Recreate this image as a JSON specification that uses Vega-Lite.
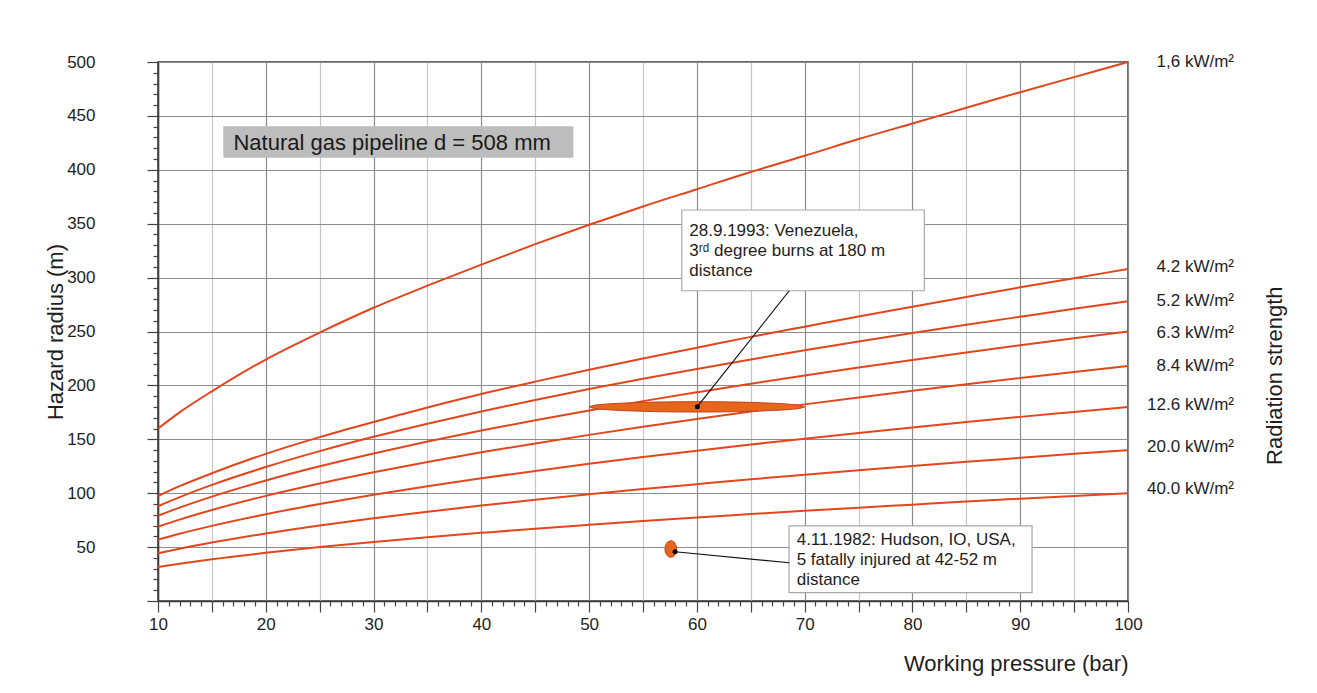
{
  "$schema": "https://vega.github.io/schema/vega-lite/v6.json",
  "width": 970,
  "height": 539,
  "autosize": {"type": "none"},
  "padding": {"left": 158, "top": 62, "right": 189, "bottom": 92},
  "background": "white",
  "config": {"font": "Liberation Sans", "view": {"stroke": "#3a3a3a", "strokeWidth": 1.5}},
  "datasets": {
    "curves": [
      {"s":"1.6","x":10,"y":160},{"s":"1.6","x":12,"y":175},{"s":"1.6","x":15,"y":194.5},{"s":"1.6","x":20,"y":224},{"s":"1.6","x":25,"y":249},{"s":"1.6","x":30,"y":272},{"s":"1.6","x":35,"y":292.5},{"s":"1.6","x":40,"y":312},{"s":"1.6","x":45,"y":331},{"s":"1.6","x":50,"y":349},{"s":"1.6","x":55,"y":366},{"s":"1.6","x":60,"y":382},{"s":"1.6","x":65,"y":398},{"s":"1.6","x":70,"y":413},{"s":"1.6","x":75,"y":428.5},{"s":"1.6","x":80,"y":443},{"s":"1.6","x":85,"y":457.5},{"s":"1.6","x":90,"y":472},{"s":"1.6","x":95,"y":486},{"s":"1.6","x":100,"y":500},
      {"s":"4.2","x":10,"y":97.4},{"s":"4.2","x":12,"y":106.5},{"s":"4.2","x":15,"y":118.5},{"s":"4.2","x":20,"y":136.5},{"s":"4.2","x":25,"y":152},{"s":"4.2","x":30,"y":166},{"s":"4.2","x":35,"y":179.5},{"s":"4.2","x":40,"y":192},{"s":"4.2","x":45,"y":203.5},{"s":"4.2","x":50,"y":214.5},{"s":"4.2","x":55,"y":225},{"s":"4.2","x":60,"y":235},{"s":"4.2","x":65,"y":245},{"s":"4.2","x":70,"y":254.5},{"s":"4.2","x":75,"y":264},{"s":"4.2","x":80,"y":273},{"s":"4.2","x":85,"y":282},{"s":"4.2","x":90,"y":291},{"s":"4.2","x":95,"y":299.5},{"s":"4.2","x":100,"y":308},
      {"s":"5.2","x":10,"y":87.9},{"s":"5.2","x":12,"y":96.3},{"s":"5.2","x":15,"y":107.7},{"s":"5.2","x":20,"y":124.3},{"s":"5.2","x":25,"y":139},{"s":"5.2","x":30,"y":152.3},{"s":"5.2","x":35,"y":164.5},{"s":"5.2","x":40,"y":175.8},{"s":"5.2","x":45,"y":186.5},{"s":"5.2","x":50,"y":196.6},{"s":"5.2","x":55,"y":206.2},{"s":"5.2","x":60,"y":215.3},{"s":"5.2","x":65,"y":224.1},{"s":"5.2","x":70,"y":232.6},{"s":"5.2","x":75,"y":240.7},{"s":"5.2","x":80,"y":248.6},{"s":"5.2","x":85,"y":256.3},{"s":"5.2","x":90,"y":263.7},{"s":"5.2","x":95,"y":271},{"s":"5.2","x":100,"y":278},
      {"s":"6.3","x":10,"y":79.1},{"s":"6.3","x":12,"y":86.6},{"s":"6.3","x":15,"y":96.8},{"s":"6.3","x":20,"y":111.8},{"s":"6.3","x":25,"y":125},{"s":"6.3","x":30,"y":136.9},{"s":"6.3","x":35,"y":147.9},{"s":"6.3","x":40,"y":158.1},{"s":"6.3","x":45,"y":167.7},{"s":"6.3","x":50,"y":176.8},{"s":"6.3","x":55,"y":185.4},{"s":"6.3","x":60,"y":193.6},{"s":"6.3","x":65,"y":201.6},{"s":"6.3","x":70,"y":209.2},{"s":"6.3","x":75,"y":216.5},{"s":"6.3","x":80,"y":223.6},{"s":"6.3","x":85,"y":230.5},{"s":"6.3","x":90,"y":237.2},{"s":"6.3","x":95,"y":243.7},{"s":"6.3","x":100,"y":250},
      {"s":"8.4","x":10,"y":68.9},{"s":"8.4","x":12,"y":75.5},{"s":"8.4","x":15,"y":84.4},{"s":"8.4","x":20,"y":97.5},{"s":"8.4","x":25,"y":109},{"s":"8.4","x":30,"y":119.4},{"s":"8.4","x":35,"y":129},{"s":"8.4","x":40,"y":137.9},{"s":"8.4","x":45,"y":146.2},{"s":"8.4","x":50,"y":154.1},{"s":"8.4","x":55,"y":161.7},{"s":"8.4","x":60,"y":168.9},{"s":"8.4","x":65,"y":175.8},{"s":"8.4","x":70,"y":182.4},{"s":"8.4","x":75,"y":188.8},{"s":"8.4","x":80,"y":195},{"s":"8.4","x":85,"y":201},{"s":"8.4","x":90,"y":206.8},{"s":"8.4","x":95,"y":212.5},{"s":"8.4","x":100,"y":218},
      {"s":"12.6","x":10,"y":56.9},{"s":"12.6","x":12,"y":62.4},{"s":"12.6","x":15,"y":69.7},{"s":"12.6","x":20,"y":80.5},{"s":"12.6","x":25,"y":90},{"s":"12.6","x":30,"y":98.6},{"s":"12.6","x":35,"y":106.5},{"s":"12.6","x":40,"y":113.8},{"s":"12.6","x":45,"y":120.7},{"s":"12.6","x":50,"y":127.3},{"s":"12.6","x":55,"y":133.5},{"s":"12.6","x":60,"y":139.4},{"s":"12.6","x":65,"y":145.1},{"s":"12.6","x":70,"y":150.6},{"s":"12.6","x":75,"y":155.9},{"s":"12.6","x":80,"y":161},{"s":"12.6","x":85,"y":166},{"s":"12.6","x":90,"y":170.8},{"s":"12.6","x":95,"y":175.4},{"s":"12.6","x":100,"y":180},
      {"s":"20.0","x":10,"y":44.3},{"s":"20.0","x":12,"y":48.5},{"s":"20.0","x":15,"y":54.2},{"s":"20.0","x":20,"y":62.6},{"s":"20.0","x":25,"y":70},{"s":"20.0","x":30,"y":76.7},{"s":"20.0","x":35,"y":82.8},{"s":"20.0","x":40,"y":88.5},{"s":"20.0","x":45,"y":93.9},{"s":"20.0","x":50,"y":99},{"s":"20.0","x":55,"y":103.8},{"s":"20.0","x":60,"y":108.4},{"s":"20.0","x":65,"y":112.9},{"s":"20.0","x":70,"y":117.1},{"s":"20.0","x":75,"y":121.2},{"s":"20.0","x":80,"y":125.2},{"s":"20.0","x":85,"y":129.1},{"s":"20.0","x":90,"y":132.8},{"s":"20.0","x":95,"y":136.5},{"s":"20.0","x":100,"y":140},
      {"s":"40.0","x":10,"y":31.6},{"s":"40.0","x":12,"y":34.6},{"s":"40.0","x":15,"y":38.7},{"s":"40.0","x":20,"y":44.7},{"s":"40.0","x":25,"y":50},{"s":"40.0","x":30,"y":54.8},{"s":"40.0","x":35,"y":59.2},{"s":"40.0","x":40,"y":63.2},{"s":"40.0","x":45,"y":67.1},{"s":"40.0","x":50,"y":70.7},{"s":"40.0","x":55,"y":74.2},{"s":"40.0","x":60,"y":77.5},{"s":"40.0","x":65,"y":80.6},{"s":"40.0","x":70,"y":83.7},{"s":"40.0","x":75,"y":86.6},{"s":"40.0","x":80,"y":89.4},{"s":"40.0","x":85,"y":92.2},{"s":"40.0","x":90,"y":94.9},{"s":"40.0","x":95,"y":97.5},{"s":"40.0","x":100,"y":100}
    ],
    "venezuela": [
      {"x":50,"y":180.1,"y2":180.1},{"x":50.5,"y":178.6,"y2":181.6},{"x":51,"y":178.0,"y2":182.2},{"x":52,"y":177.2,"y2":183.0},{"x":53,"y":176.7,"y2":183.5},{"x":54,"y":176.3,"y2":183.9},{"x":56,"y":175.7,"y2":184.5},{"x":58,"y":175.4,"y2":184.8},{"x":60,"y":175.3,"y2":184.9},{"x":62,"y":175.4,"y2":184.8},{"x":64,"y":175.7,"y2":184.5},{"x":66,"y":176.3,"y2":183.9},{"x":67,"y":176.7,"y2":183.5},{"x":68,"y":177.2,"y2":183.0},{"x":69,"y":178.0,"y2":182.2},{"x":69.5,"y":178.6,"y2":181.6},{"x":70,"y":180.1,"y2":180.1}
    ],
    "hudson": [
      {"y":40.5,"x":57.58,"x2":57.58},{"y":41,"x":57.39,"x2":57.77},{"y":42,"x":57.26,"x2":57.9},{"y":44,"x":57.13,"x2":58.03},{"y":46,"x":57.06,"x2":58.1},{"y":48.2,"x":57.04,"x2":58.12},{"y":50.4,"x":57.06,"x2":58.1},{"y":52.4,"x":57.13,"x2":58.03},{"y":54.4,"x":57.26,"x2":57.9},{"y":55.4,"x":57.39,"x2":57.77},{"y":55.9,"x":57.58,"x2":57.58}
    ]
  },
  "encoding": {
    "x": {
      "field": "x", "type": "quantitative",
      "scale": {"domain": [10, 100], "nice": false, "zero": false},
      "axis": {
        "values": [10,11,12,13,14,15,16,17,18,19,20,21,22,23,24,25,26,27,28,29,30,31,32,33,34,35,36,37,38,39,40,41,42,43,44,45,46,47,48,49,50,51,52,53,54,55,56,57,58,59,60,61,62,63,64,65,66,67,68,69,70,71,72,73,74,75,76,77,78,79,80,81,82,83,84,85,86,87,88,89,90,91,92,93,94,95,96,97,98,99,100],
        "labelExpr": "datum.value % 10 === 0 ? datum.label : ''",
        "labelFlush": false, "labelOverlap": false, "labelBound": false,
        "labelFontSize": 17, "labelColor": "#1e1e1e", "labelPadding": 4,
        "tickSize": 11,
        "tickDash": {"condition": {"test": "datum.value % 5 === 0", "value": [12, 1]}, "value": [5, 20]},
        "tickColor": "#444444", "tickWidth": 1.2,
        "domainColor": "#3a3a3a", "domainWidth": 1.5,
        "grid": true,
        "gridColor": {"condition": {"test": "datum.value % 10 === 0", "value": "#8c8c8c"}, "value": "#c6c6c6"},
        "gridOpacity": {"condition": {"test": "datum.value % 5 === 0", "value": 1}, "value": 0},
        "gridWidth": 1.2,
        "title": "Working pressure (bar)", "titleFontSize": 22, "titleFontWeight": "normal",
        "titleColor": "#1e1e1e", "titleAnchor": "end", "titleY": 52, "titleBaseline": "top"
      }
    },
    "y": {
      "field": "y", "type": "quantitative",
      "scale": {"domain": [0, 500], "nice": false, "zero": false},
      "axis": {
        "values": [0,10,20,30,40,50,60,70,80,90,100,110,120,130,140,150,160,170,180,190,200,210,220,230,240,250,260,270,280,290,300,310,320,330,340,350,360,370,380,390,400,410,420,430,440,450,460,470,480,490,500],
        "labelExpr": "datum.value % 50 === 0 && datum.value > 0 ? datum.label : ''",
        "labelFlush": false, "labelOverlap": false, "labelBound": false,
        "labelFontSize": 17, "labelColor": "#1e1e1e", "labelPadding": 52,
        "tickSize": 11,
        "tickDash": {"condition": {"test": "datum.value % 50 === 0", "value": [12, 1]}, "value": [5, 20]},
        "tickColor": "#444444", "tickWidth": 1.2,
        "domainColor": "#3a3a3a", "domainWidth": 1.5,
        "grid": true,
        "gridColor": "#8c8c8c",
        "gridOpacity": {"condition": {"test": "datum.value % 50 === 0", "value": 1}, "value": 0},
        "gridWidth": 1.2,
        "title": "Hazard radius (m)", "titleFontSize": 22, "titleFontWeight": "normal",
        "titleColor": "#1e1e1e", "titleX": -96, "titleBaseline": "alphabetic"
      }
    }
  },
  "layer": [
    {
      "data": {"values": [{"x": 16.06, "x2": 48.54, "y": 440.4, "y2": 411.1}]},
      "mark": {"type": "rect", "fill": "#bdbdbd"},
      "encoding": {"x2": {"field": "x2"}, "y2": {"field": "y2"}}
    },
    {
      "data": {"values": [{"x": 17, "y": 433.8, "label": "Natural gas pipeline d = 508 mm"}]},
      "mark": {"type": "text", "align": "left", "baseline": "top", "fontSize": 22, "color": "#1a1a1a"},
      "encoding": {"text": {"field": "label"}}
    },
    {
      "data": {"name": "curves"},
      "mark": {"type": "line", "color": "#e2461c", "strokeWidth": 2, "interpolate": "monotone"},
      "encoding": {"detail": {"field": "s"}}
    },
    {
      "data": {"name": "venezuela"},
      "mark": {"type": "area", "fill": "#e8661c", "stroke": "#c0441a", "strokeWidth": 1, "interpolate": "monotone"},
      "encoding": {"y2": {"field": "y2"}}
    },
    {
      "data": {"name": "hudson"},
      "mark": {"type": "area", "orient": "horizontal", "fill": "#e8661c", "stroke": "#c0441a", "strokeWidth": 1, "interpolate": "monotone"},
      "encoding": {"x2": {"field": "x2"}}
    },
    {
      "data": {"values": [{"x": 58.6, "x2": 81.1, "y": 362.7, "y2": 287.8}, {"x": 68.55, "x2": 91.1, "y": 69.6, "y2": 7.7}]},
      "mark": {"type": "rect", "fill": "white", "stroke": "#a8a8a8", "strokeWidth": 1.2},
      "encoding": {"x2": {"field": "x2"}, "y2": {"field": "y2"}}
    },
    {
      "data": {"values": [
        {"x": 59.3, "y": 350.6, "label": "28.9.1993: Venezuela,\n3ʳᵈ degree burns at 180 m\ndistance"},
        {"x": 69.26, "y": 64, "label": "4.11.1982: Hudson, IO, USA,\n5 fatally injured at 42-52 m\ndistance"}
      ]},
      "mark": {"type": "text", "align": "left", "baseline": "top", "fontSize": 17, "lineHeight": 20, "lineBreak": "\n", "color": "#1e1e1e"},
      "encoding": {"text": {"field": "label"}}
    },
    {
      "data": {"values": [{"x": 60.04, "y": 180.2, "x2": 68.57, "y2": 287.8}, {"x": 57.97, "y": 45.7, "x2": 68.57, "y2": 35.5}]},
      "mark": {"type": "rule", "color": "#111111", "strokeWidth": 1.2},
      "encoding": {"x2": {"field": "x2"}, "y2": {"field": "y2"}}
    },
    {
      "data": {"values": [{"x": 60.04, "y": 180.2}, {"x": 57.97, "y": 45.7}]},
      "mark": {"type": "point", "filled": true, "color": "#000000", "size": 25, "opacity": 1},
      "encoding": {}
    },
    {
      "data": {"values": [
        {"x": 100, "y": 500, "label": "1,6 kW/m²"},
        {"x": 100, "y": 310, "label": "4.2 kW/m²"},
        {"x": 100, "y": 278, "label": "5.2 kW/m²"},
        {"x": 100, "y": 249, "label": "6.3 kW/m²"},
        {"x": 100, "y": 218, "label": "8.4 kW/m²"},
        {"x": 100, "y": 182, "label": "12.6 kW/m²"},
        {"x": 100, "y": 143, "label": "20.0 kW/m²"},
        {"x": 100, "y": 104, "label": "40.0 kW/m²"}
      ]},
      "mark": {"type": "text", "align": "right", "baseline": "middle", "dx": 106, "fontSize": 17, "color": "#1e1e1e"},
      "encoding": {"text": {"field": "label"}}
    },
    {
      "data": {"values": [{"x": 100, "y": 209, "label": "Radiation strength"}]},
      "mark": {"type": "text", "align": "center", "baseline": "middle", "angle": 270, "dy": 147, "fontSize": 22, "color": "#1e1e1e"},
      "encoding": {"text": {"field": "label"}}
    }
  ]
}
